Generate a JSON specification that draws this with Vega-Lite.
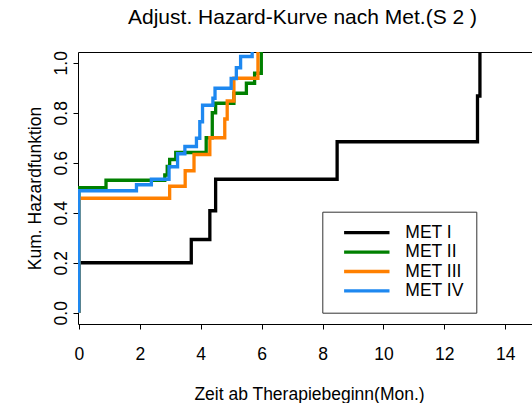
{
  "$schema": "https://vega.github.io/schema/vega-lite/v6.json",
  "width": 454,
  "height": 272,
  "autosize": {"type": "none"},
  "padding": {"left": 78, "top": 52, "right": 0, "bottom": 79},
  "background": "white",
  "title": {
    "text": "Adjust. Hazard-Kurve nach Met.(S 2 )",
    "font": "Liberation Sans",
    "fontSize": 21,
    "fontWeight": "normal",
    "color": "black",
    "anchor": "middle",
    "baseline": "alphabetic",
    "frame": "group",
    "offset": 6,
    "dx": -2.5
  },
  "config": {
    "view": {"stroke": "black", "strokeWidth": 1},
    "axis": {
      "domain": false,
      "grid": false,
      "tickColor": "black",
      "tickSize": 5,
      "tickWidth": 1,
      "labelFont": "Liberation Sans",
      "labelFontSize": 17.5,
      "labelColor": "black",
      "titleFont": "Liberation Sans",
      "titleFontSize": 17.5,
      "titleFontWeight": "normal",
      "titleColor": "black"
    },
    "legend": {
      "orient": "none",
      "legendX": 244.3,
      "legendY": 159.7,
      "strokeColor": "#333333",
      "fillColor": "white",
      "padding": 12,
      "cornerRadius": 0,
      "symbolType": "stroke",
      "symbolStrokeWidth": 3.3,
      "symbolSize": 2061,
      "symbolOffset": 8,
      "labelOffset": 14,
      "clipHeight": 18,
      "labelFont": "Liberation Sans",
      "labelFontSize": 17.5,
      "labelColor": "black",
      "rowPadding": 1.4
    }
  },
  "data": {
    "values": [
      {"g": "MET I", "i": 0, "t": 0, "v": 0},
      {"g": "MET I", "i": 1, "t": 0, "v": 0.2},
      {"g": "MET I", "i": 2, "t": 3.69, "v": 0.293},
      {"g": "MET I", "i": 3, "t": 4.3, "v": 0.408},
      {"g": "MET I", "i": 4, "t": 4.49, "v": 0.534},
      {"g": "MET I", "i": 5, "t": 8.48, "v": 0.684},
      {"g": "MET I", "i": 6, "t": 13.09, "v": 0.867},
      {"g": "MET I", "i": 7, "t": 13.17, "v": 1.2},

      {"g": "MET II", "i": 0, "t": 0, "v": 0},
      {"g": "MET II", "i": 1, "t": 0, "v": 0.5},
      {"g": "MET II", "i": 2, "t": 0.89, "v": 0.53},
      {"g": "MET II", "i": 3, "t": 2.82, "v": 0.551},
      {"g": "MET II", "i": 4, "t": 2.9, "v": 0.585},
      {"g": "MET II", "i": 5, "t": 2.98, "v": 0.613},
      {"g": "MET II", "i": 6, "t": 3.18, "v": 0.641},
      {"g": "MET II", "i": 7, "t": 4.18, "v": 0.7},
      {"g": "MET II", "i": 8, "t": 4.38, "v": 0.8},
      {"g": "MET II", "i": 9, "t": 4.49, "v": 0.838},
      {"g": "MET II", "i": 10, "t": 5.09, "v": 0.878},
      {"g": "MET II", "i": 11, "t": 5.5, "v": 0.918},
      {"g": "MET II", "i": 12, "t": 5.77, "v": 0.958},
      {"g": "MET II", "i": 13, "t": 5.99, "v": 1.2},

      {"g": "MET III", "i": 0, "t": 0, "v": 0},
      {"g": "MET III", "i": 1, "t": 0, "v": 0.458},
      {"g": "MET III", "i": 2, "t": 2.98, "v": 0.506},
      {"g": "MET III", "i": 3, "t": 3.49, "v": 0.568},
      {"g": "MET III", "i": 4, "t": 3.78, "v": 0.633},
      {"g": "MET III", "i": 5, "t": 4.3, "v": 0.7},
      {"g": "MET III", "i": 6, "t": 4.79, "v": 0.775},
      {"g": "MET III", "i": 7, "t": 4.87, "v": 0.847},
      {"g": "MET III", "i": 8, "t": 5.09, "v": 0.938},
      {"g": "MET III", "i": 9, "t": 5.88, "v": 1.2},

      {"g": "MET IV", "i": 0, "t": 0, "v": 0},
      {"g": "MET IV", "i": 1, "t": 0, "v": 0.488},
      {"g": "MET IV", "i": 2, "t": 1.89, "v": 0.512},
      {"g": "MET IV", "i": 3, "t": 2.38, "v": 0.534},
      {"g": "MET IV", "i": 4, "t": 2.96, "v": 0.584},
      {"g": "MET IV", "i": 5, "t": 3.24, "v": 0.636},
      {"g": "MET IV", "i": 6, "t": 3.48, "v": 0.665},
      {"g": "MET IV", "i": 7, "t": 3.86, "v": 0.698},
      {"g": "MET IV", "i": 8, "t": 3.97, "v": 0.764},
      {"g": "MET IV", "i": 9, "t": 4.06, "v": 0.83},
      {"g": "MET IV", "i": 10, "t": 4.4, "v": 0.858},
      {"g": "MET IV", "i": 11, "t": 4.47, "v": 0.898},
      {"g": "MET IV", "i": 12, "t": 5.0, "v": 0.937},
      {"g": "MET IV", "i": 13, "t": 5.17, "v": 0.98},
      {"g": "MET IV", "i": 14, "t": 5.31, "v": 1.025},
      {"g": "MET IV", "i": 15, "t": 5.69, "v": 1.2}
    ]
  },
  "mark": {"type": "line", "interpolate": "step-after", "strokeWidth": 3.3, "clip": true},
  "encoding": {
    "x": {
      "field": "t",
      "type": "quantitative",
      "scale": {"domain": [-0.03, 14.88], "nice": false, "zero": false},
      "axis": {
        "values": [0, 2, 4, 6, 8, 10, 12, 14],
        "title": "Zeit ab Therapiebeginn(Mon.)",
        "labelBaseline": "alphabetic",
        "labelPadding": 30.5,
        "titleX": 231,
        "titleY": 75.5,
        "titleAlign": "center",
        "titleBaseline": "alphabetic",
        "labelFlush": false
      }
    },
    "y": {
      "field": "v",
      "type": "quantitative",
      "scale": {"domain": [-0.045, 1.043], "nice": false, "zero": false},
      "axis": {
        "values": [0, 0.2, 0.4, 0.6, 0.8, 1.0],
        "format": ".1f",
        "title": "Kum. Hazardfunktion",
        "labelAngle": 270,
        "labelAlign": "center",
        "labelBaseline": "alphabetic",
        "labelPadding": 6.3,
        "labelFlush": false,
        "titleAngle": 270,
        "titleX": -38,
        "titleY": 136,
        "titleAlign": "center",
        "titleBaseline": "alphabetic"
      }
    },
    "color": {
      "field": "g",
      "type": "nominal",
      "scale": {
        "domain": ["MET I", "MET II", "MET III", "MET IV"],
        "range": ["#000000", "#008000", "#FF8000", "#1E88F0"]
      },
      "legend": {"title": null, "labelExpr": "datum.label + '          '"}
    },
    "order": {"field": "i", "type": "quantitative"}
  }
}
